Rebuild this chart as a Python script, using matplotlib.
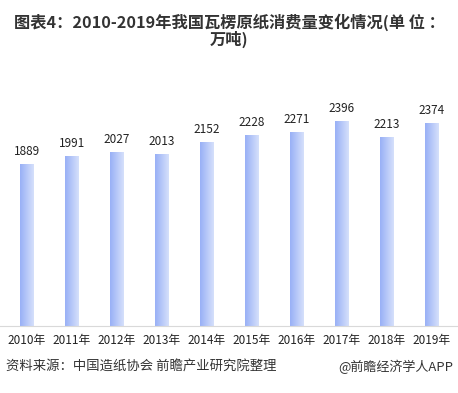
import matplotlib
matplotlib.use("Agg")
import matplotlib.pyplot as plt
import numpy as np
from matplotlib.colors import LinearSegmentedColormap

plt.rcParams['font.family'] = ['Noto Sans CJK SC', 'DejaVu Sans']

years = ['2010年', '2011年', '2012年', '2013年', '2014年',
         '2015年', '2016年', '2017年', '2018年', '2019年']
values = [1889, 1991, 2027, 2013, 2152, 2228, 2271, 2396, 2213, 2374]

title = '图表4：2010-2019年我国瓦楞原纸消费量变化情况(单 位 ：\n万吨)'
source = '资料来源：中国造纸协会 前瞻产业研究院整理'
credit = '@前瞻经济学人APP'

fig = plt.figure(figsize=(4.58, 3.93), dpi=100, facecolor='w')
ax = fig.add_axes([0.0, 67 / 393, 1.0, 226 / 393])

x = np.arange(len(values))
width = 0.31
bars = ax.bar(x, values, width=width, color='none', edgecolor='none')

# horizontal gradient inside each bar
cmap = LinearSegmentedColormap.from_list('barblue', ['#98b0f6', '#d6e0fb'])
grad = np.linspace(0, 1, 64).reshape(1, -1)
for b in bars:
    x0, w, h = b.get_x(), b.get_width(), b.get_height()
    im = ax.imshow(grad, cmap=cmap, aspect='auto', extent=[x0, x0 + w, 0, h],
                   zorder=2, interpolation='bicubic')
    im.set_clip_path(b)

for xi, v in zip(x, values):
    ax.text(xi, v + 70, str(v), ha='center', va='bottom', fontsize=8.5,
            color='#222222')

ax.set_xlim(-0.6, len(values) - 0.42)
ax.set_ylim(0, 2640)
ax.set_xticks(x)
ax.set_xticklabels(years, fontsize=8.5, color='#222222')
ax.tick_params(axis='x', length=0, pad=6)
ax.set_yticks([])
for s in ['top', 'right', 'left']:
    ax.spines[s].set_visible(False)
ax.spines['bottom'].set_color('#d9d9d9')
ax.spines['bottom'].set_linewidth(0.8)
ax.set_facecolor('none')

fig.text(0.5, 1 - 31 / 393, title, ha='center', va='center', fontsize=11.7,
         fontweight='bold', color='#333333', linespacing=1.0)
fig.text(6 / 458, 1 - 367 / 393, source, ha='left', va='center',
         fontsize=9.6, color='#333333')
fig.text(453 / 458, 1 - 367 / 393, credit, ha='right', va='center',
         fontsize=9.4, color='#333333')

plt.savefig('out.png', dpi=100, facecolor='w')
